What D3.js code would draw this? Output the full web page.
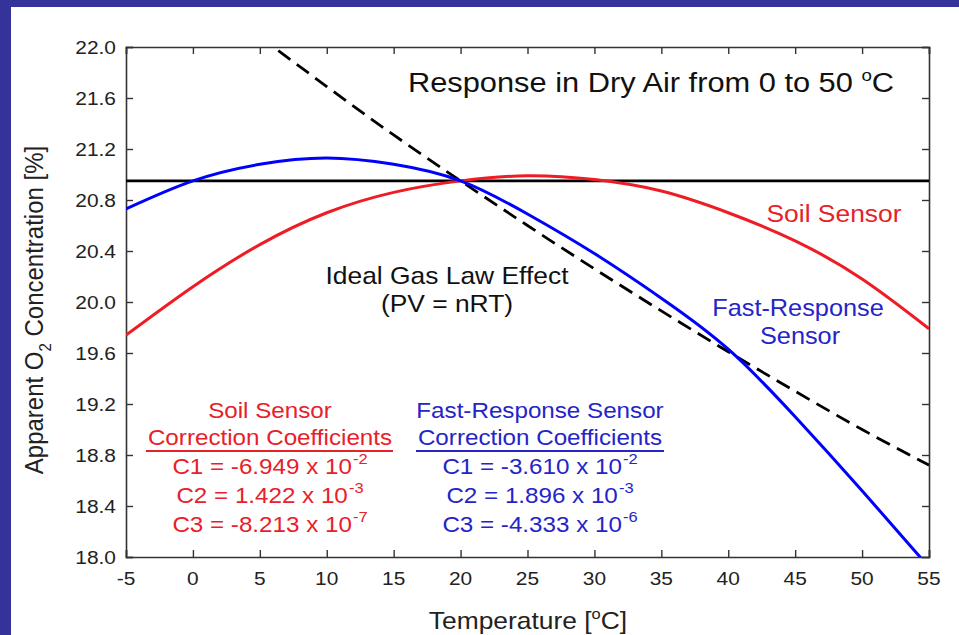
<!DOCTYPE html>
<html><head><meta charset="utf-8">
<script src="https://cdn.jsdelivr.net/npm/d3@7/dist/d3.min.js"></script>
<style>
html,body{margin:0;padding:0;background:#333399;}
svg{display:block;}
text{font-family:"Liberation Sans",Arial,Helvetica,sans-serif;}
</style></head>
<body>
<svg id="chart" width="959" height="635"></svg>
<script>
// ---- data ----
const temps = [-5, 0, 5, 10, 15, 20, 25, 30, 35, 40, 45, 50, 55];
const soilSensor = [19.74, 20.12, 20.45, 20.70, 20.86, 20.95, 20.99, 20.96, 20.87, 20.70, 20.48, 20.18, 19.79];
const fastSensor = [20.73, 20.95, 21.08, 21.13, 21.08, 20.95, 20.69, 20.38, 20.03, 19.63, 19.10, 18.52, 17.92];
const idealTemps = [5, 10, 15, 20, 25, 30, 35, 40, 45, 50, 55];
const idealGas = [22.08, 21.69, 21.31, 20.95, 20.60, 20.26, 19.93, 19.61, 19.30, 19.00, 18.72];
const ambientO2 = 20.95;
const xTicks = [-5, 0, 5, 10, 15, 20, 25, 30, 35, 40, 45, 50, 55];
const yTicks = [18.0, 18.4, 18.8, 19.2, 19.6, 20.0, 20.4, 20.8, 21.2, 21.6, 22.0];
const soilCoeffs = [["C1 = -6.949 x 10", "-2"], ["C2 = 1.422 x 10", "-3"], ["C3 = -8.213 x 10", "-7"]];
const fastCoeffs = [["C1 = -3.610 x 10", "-2"], ["C2 = 1.896 x 10", "-3"], ["C3 = -4.333 x 10", "-6"]];

const RED = "#ee1c24", BLUE = "#0000ff", RED_T = "#e8202a", BLUE_T = "#2424c8";
const SX = 1.1; // horizontal stretch of the original artwork

const svg = d3.select("#chart");
svg.append("rect").attr("x", 11).attr("y", 7).attr("width", 948).attr("height", 628).attr("fill", "#ffffff");

const L = 126, R = 929, T = 47, B = 557;
const x = d3.scaleLinear().domain([-5, 55]).range([L, R]);
const y = d3.scaleLinear().domain([18, 22]).range([B, T]);

svg.append("clipPath").attr("id", "plotclip").append("rect")
  .attr("x", L).attr("y", T).attr("width", R - L).attr("height", B - T);

function label(x0, y0, anchor, size, fill) {
  return svg.append("text")
    .attr("transform", `translate(${x0},${y0}) scale(${SX},1)`)
    .attr("text-anchor", anchor)
    .attr("font-size", size)
    .attr("fill", fill);
}

// axes (inward ticks on all four sides)
const axisColor = "#333";
const gB = svg.append("g").attr("transform", `translate(0,${B})`)
  .call(d3.axisBottom(x).tickValues(xTicks).tickSize(-7).tickFormat(""));
const gT = svg.append("g").attr("transform", `translate(0,${T})`)
  .call(d3.axisTop(x).tickValues(xTicks).tickSize(-7).tickFormat(""));
const gL = svg.append("g").attr("transform", `translate(${L},0)`)
  .call(d3.axisLeft(y).tickValues(yTicks).tickSize(-7).tickFormat(""));
const gR = svg.append("g").attr("transform", `translate(${R},0)`)
  .call(d3.axisRight(y).tickValues(yTicks).tickSize(-7).tickFormat(""));
[gB, gT, gL, gR].forEach(g => {
  g.select(".domain").attr("stroke", axisColor).attr("stroke-width", 1.6);
  g.selectAll(".tick line").attr("stroke", axisColor).attr("stroke-width", 1.4);
});

// tick labels
xTicks.forEach(v => label(x(v), 585, "middle", 19, "#222").text(v));
yTicks.forEach(v => label(116, y(v) + 7, "end", 19, "#222").text(v.toFixed(1)));

// lines
const plot = svg.append("g").attr("clip-path", "url(#plotclip)");
const line = d3.line().x(d => x(d[0])).y(d => y(d[1])).curve(d3.curveNatural);

plot.append("line").attr("x1", x(-5)).attr("x2", x(55))
  .attr("y1", y(ambientO2)).attr("y2", y(ambientO2))
  .attr("stroke", "#000").attr("stroke-width", 2.6);

plot.append("path").datum(idealTemps.map((t, i) => [t, idealGas[i]]))
  .attr("d", line).attr("fill", "none").attr("stroke", "#000")
  .attr("stroke-width", 2.8).attr("stroke-dasharray", "15,8");

plot.append("path").datum(temps.map((t, i) => [t, soilSensor[i]]))
  .attr("d", line).attr("fill", "none").attr("stroke", RED).attr("stroke-width", 3);

plot.append("path").datum(temps.map((t, i) => [t, fastSensor[i]]))
  .attr("d", line).attr("fill", "none").attr("stroke", BLUE).attr("stroke-width", 3);

// title
const title = label(651, 92, "middle", 28, "#111");
title.append("tspan").text("Response in Dry Air from 0 to 50 ");
title.append("tspan").attr("font-size", 17).attr("dy", -11).text("o");
title.append("tspan").attr("dy", 11).text("C");

// curve labels
label(834, 222, "middle", 24, RED_T).text("Soil Sensor");
label(798, 316, "middle", 23, BLUE_T).text("Fast-Response");
label(800, 344, "middle", 23, BLUE_T).text("Sensor");
label(447, 284, "middle", 24, "#111").text("Ideal Gas Law Effect");
label(447, 312, "middle", 24, "#111").text("(PV = nRT)");

// coefficient blocks
function coeffBlock(cx, head, coeffs, color, ulx1, ulx2) {
  label(cx, 418, "middle", 22, color).text(head);
  label(cx, 445, "middle", 22, color).text("Correction Coefficients");
  svg.append("line").attr("x1", ulx1).attr("x2", ulx2).attr("y1", 451).attr("y2", 451)
    .attr("stroke", color).attr("stroke-width", 2);
  coeffs.forEach((c, i) => {
    const t = label(cx, 474 + i * 29, "middle", 22, color);
    t.append("tspan").text(c[0]);
    t.append("tspan").attr("font-size", 15).attr("dy", -10).attr("dx", 1).text(c[1]);
  });
}
coeffBlock(270, "Soil Sensor", soilCoeffs, RED_T, 146, 393);
coeffBlock(540, "Fast-Response Sensor", fastCoeffs, BLUE_T, 416, 664);

// axis titles
const xt = label(528, 629, "middle", 24, "#222");
xt.append("tspan").text("Temperature [");
xt.append("tspan").attr("font-size", 15).attr("dy", -10).text("o");
xt.append("tspan").attr("dy", 10).text("C]");

const yt = svg.append("text")
  .attr("transform", `translate(43,${(T + B) / 2 + 8}) rotate(-90) scale(1,${SX})`)
  .attr("text-anchor", "middle").attr("font-size", 24).attr("fill", "#222");
yt.append("tspan").text("Apparent O");
yt.append("tspan").attr("font-size", 15).attr("dy", 7).text("2");
yt.append("tspan").attr("dy", -7).text(" Concentration [%]");
</script>
</body></html>
